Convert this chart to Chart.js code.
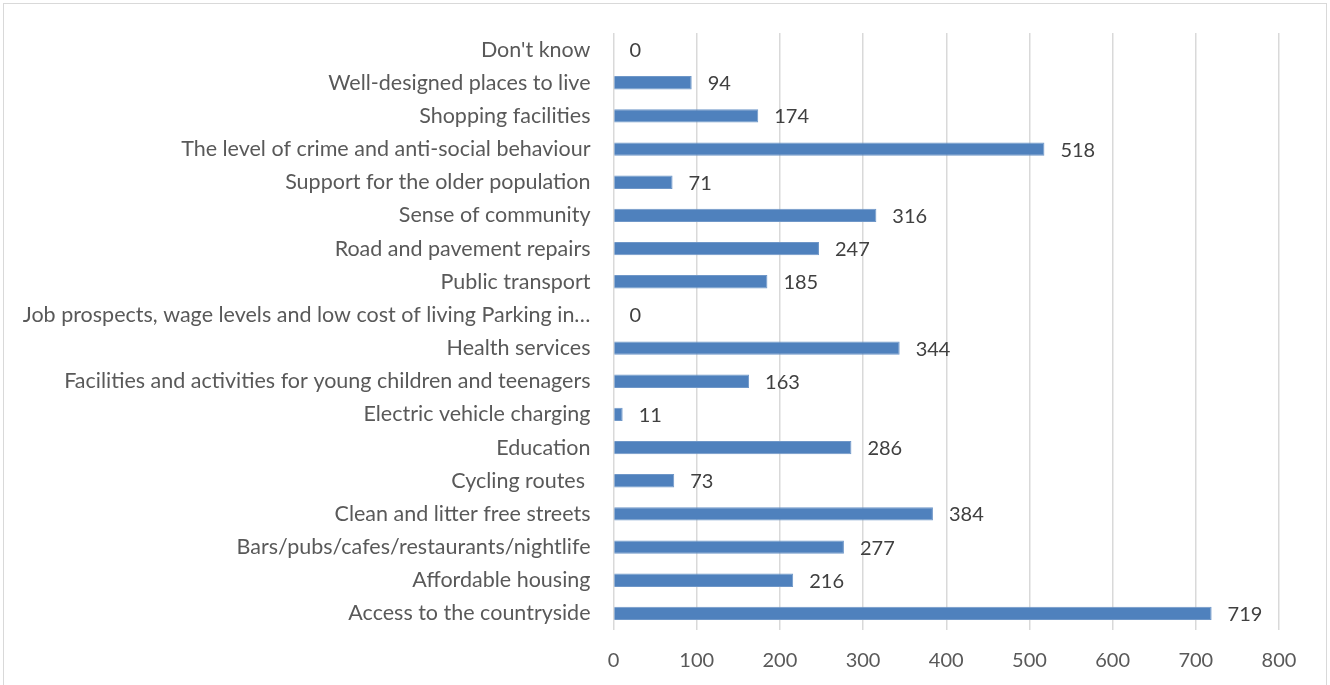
<!DOCTYPE html>
<html>
<head>
<meta charset="utf-8">
<script src="https://cdn.jsdelivr.net/npm/chart.js@4/dist/chart.umd.min.js"></script>
<style>
  html, body { margin: 0; padding: 0; background: #fff; overflow: hidden; }
  #wrap { position: relative; width: 1330px; height: 685px; }
  #frame {
    position: absolute; left: 3px; top: 3px; width: 1322px; height: 690px;
    border: 1.5px solid #d9d9d9; pointer-events: none;
  }
</style>
</head>
<body>
<div id="wrap">
  <canvas id="chart" width="1330" height="685"></canvas>
  <div id="frame"></div>
</div>
<script>
// categories top to bottom
const categories = [
    "Don't know",
    'Well-designed places to live',
    'Shopping facilities',
    'The level of crime and anti-social behaviour',
    'Support for the older population',
    'Sense of community',
    'Road and pavement repairs',
    'Public transport',
    'Job prospects, wage levels and low cost of living Parking in…',
    'Health services',
    'Facilities and activities for young children and teenagers',
    'Electric vehicle charging',
    'Education',
    'Cycling routes ',
    'Clean and litter free streets',
    'Bars/pubs/cafes/restaurants/nightlife',
    'Affordable housing',
    'Access to the countryside'
];
const counts = [0, 94, 174, 518, 71, 316, 247, 185, 0, 344, 163, 11, 286, 73, 384, 277, 216, 719];
const xTicks = [0, 100, 200, 300, 400, 500, 600, 700, 800];

const FONT = 'Lato, "Open Sans", sans-serif';
const TEXT = '#595959';

// value labels at the end of each bar
const valueLabels = {
    id: 'valueLabels',
    afterDatasetsDraw(chart) {
        const ctx = chart.ctx;
        const meta = chart.getDatasetMeta(0);
        ctx.save();
        ctx.font = '20px ' + FONT;
        ctx.fillStyle = '#404040';
        ctx.textAlign = 'left';
        ctx.textBaseline = 'middle';
        meta.data.forEach((bar, i) => {
            ctx.fillText(String(counts[i]), bar.x + 16, bar.y + 1);
        });
        ctx.restore();
    }
};

new Chart(document.getElementById('chart'), {
    type: 'bar',
    data: {
        labels: categories,
        datasets: [{
            data: counts,
            backgroundColor: '#4f81bd',
            borderColor: '#6f97c8',
            borderWidth: 1,
            borderSkipped: 'left',
            categoryPercentage: 1,
            barPercentage: 0.4
        }]
    },
    options: {
        indexAxis: 'y',
        responsive: false,
        animation: false,
        layout: { padding: { top: 33, right: 51, bottom: 0, left: 0 } },
        plugins: {
            legend: { display: false },
            tooltip: { enabled: false }
        },
        scales: {
            x: {
                min: 0,
                max: 800,
                afterBuildTicks: scale => { scale.ticks = xTicks.map(v => ({ value: v })); },
                afterFit: scale => { scale.height = 55; },
                grid: { color: '#d9d9d9', lineWidth: 1.5, drawTicks: false },
                border: { display: false },
                ticks: { color: TEXT, font: { family: FONT, size: 20 }, padding: 19 }
            },
            y: {
                afterFit: scale => { scale.width = 613.5; },
                grid: { display: false },
                border: { display: false },
                ticks: { color: TEXT, font: { family: FONT, size: 21.5 }, padding: 15, autoSkip: false }
            }
        }
    },
    plugins: [valueLabels]
});
</script>
</body>
</html>
